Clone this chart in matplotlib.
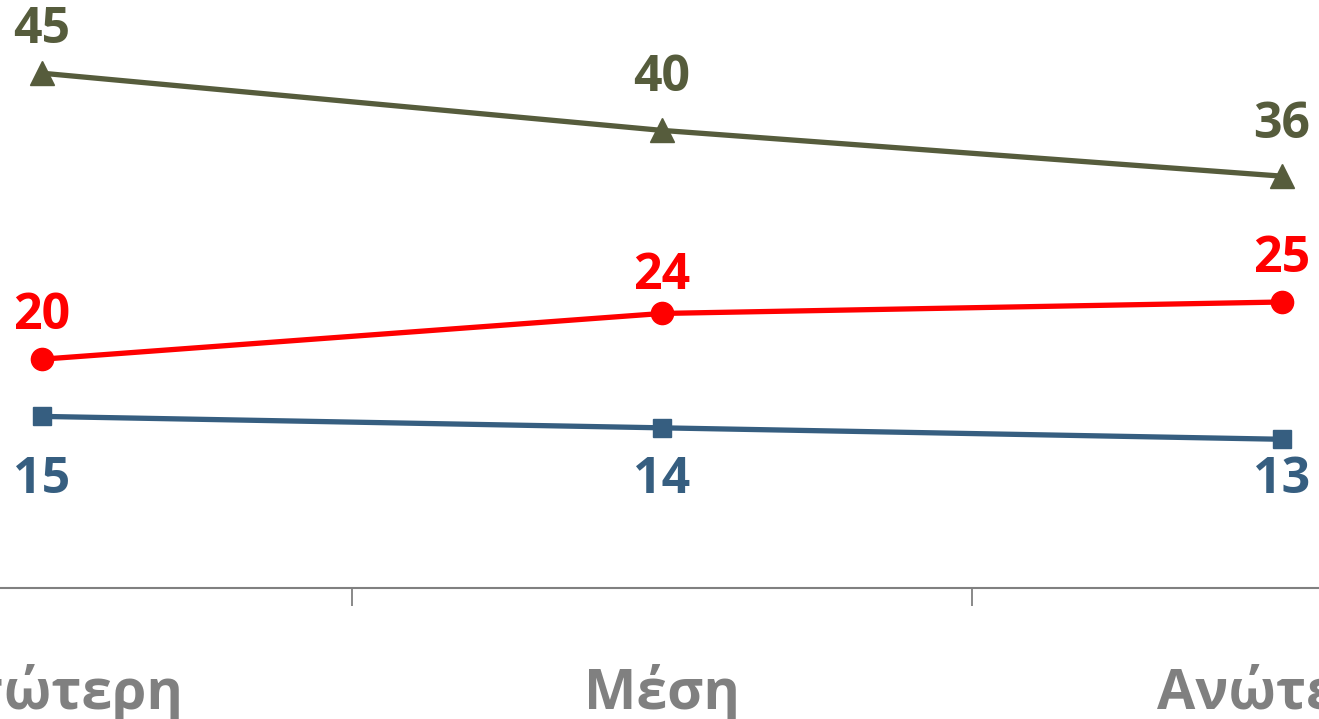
import matplotlib.pyplot as plt

categories = ["Κατώτερη", "Μέση", "Ανώτερη"]
olive_vals = [45, 40, 36]
red_vals = [20, 24, 25]
blue_vals = [15, 14, 13]

OLIVE = "#565C3C"
RED = "#FF0000"
BLUE = "#365E80"
GRAY = "#808080"

plt.rcParams["font.family"] = ["Open Sans", "DejaVu Sans"]

fig = plt.figure(figsize=(13.19, 7.19), dpi=100)
# axes wider than the figure: the original chart is cropped at both sides
ax = fig.add_axes([-268 / 1319, 131 / 719, 1860 / 1319, 572 / 719])

x = list(range(len(categories)))

ax.plot(x, olive_vals, color=OLIVE, lw=3.8, marker="^", ms=17, clip_on=False)
ax.plot(x, red_vals, color=RED, lw=3.8, marker="o", ms=16, clip_on=False)
ax.plot(x, blue_vals, color=BLUE, lw=3.8, marker="s", ms=13, clip_on=False)

lab = dict(ha="center", va="center", fontsize=36, fontweight="bold")
olive_off = [31, 38, 37]
red_off = [31, 27, 31]
for xi, v, o in zip(x, olive_vals, olive_off):
    ax.annotate(str(v), (xi, v), xytext=(0, o), textcoords="offset points", color=OLIVE, **lab)
for xi, v, o in zip(x, red_vals, red_off):
    ax.annotate(str(v), (xi, v), xytext=(0, o), textcoords="offset points", color=RED, **lab)
# blue labels sit on a common baseline below the line
for xi, v in zip(x, blue_vals):
    ax.annotate(str(v), (xi, v), xytext=(xi, 9.4), textcoords="data", color=BLUE, **lab)

ax.set_xlim(-0.5, 2.5)
ax.set_ylim(0, 50)

ax.set_xticks(x)
ax.set_xticklabels(categories, fontsize=40, fontweight="bold", color=GRAY)
ax.tick_params(axis="x", which="major", length=0, pad=55)
ax.set_xticks([0.5, 1.5], minor=True)
ax.tick_params(axis="x", which="minor", length=13, width=1.3, color=GRAY, direction="out")
ax.set_yticks([])

for s in ["top", "left", "right"]:
    ax.spines[s].set_visible(False)
ax.spines["bottom"].set_color(GRAY)
ax.spines["bottom"].set_linewidth(1.5)

fig.savefig("out.png", dpi=100)
